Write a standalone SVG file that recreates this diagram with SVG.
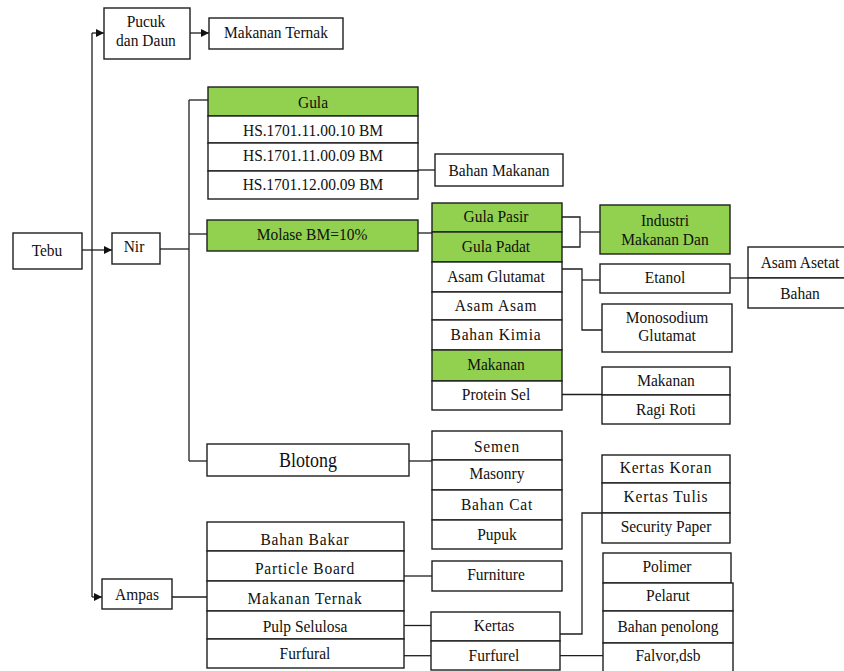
<svg xmlns="http://www.w3.org/2000/svg" width="844" height="671" viewBox="0 0 844 671">
  <style>
    rect { fill: #ffffff; stroke: #1e1e1e; stroke-width: 1.4; }
    rect.g { fill: #92d050; }
    text { font-family: "Liberation Serif", Tinos, "Times New Roman", serif; font-size: 15.5px; fill: #111; text-anchor: middle;
           transform-box: fill-box; transform-origin: center; transform: scaleY(1.12); }
    text.big { font-size: 18px; }
    text.sp { letter-spacing: 0.8px; }
    #links path { fill: none; stroke: #1e1e1e; stroke-width: 1.3; }
  </style>
  <defs>
    <marker id="arr" viewBox="0 0 10 10" refX="10" refY="5" markerWidth="8" markerHeight="8" markerUnits="userSpaceOnUse" orient="auto">
      <path d="M0,0 L10,5 L0,10 z" fill="#111"/>
    </marker>
  </defs>
  <rect x="0" y="0" width="844" height="671" style="fill:#fff;stroke:none"/>

  <!-- connectors -->
  <g id="links">
    <path d="M92,33 V597"/>
    <path d="M92,33 H104" marker-end="url(#arr)"/>
    <path d="M92,597 H102" marker-end="url(#arr)"/>
    <path d="M82,250 H112" marker-end="url(#arr)"/>
    <path d="M190,33 H209" marker-end="url(#arr)"/>
    <path d="M160,249 H189"/>
    <path d="M189,100 V461"/>
    <path d="M189,100 H208"/>
    <path d="M189,234 H207"/>
    <path d="M189,461 H207"/>
    <path d="M418,170 H435"/>
    <path d="M418,233 H432"/>
    <path d="M562,217 H580 V247 H562"/>
    <path d="M580,232 H600"/>
    <path d="M562,269 H582 V330 H602"/>
    <path d="M582,280 H600"/>
    <path d="M730,278 H748"/>
    <path d="M562,394.5 H602"/>
    <path d="M409,461 H432"/>
    <path d="M172,597 H207"/>
    <path d="M404,576 H432"/>
    <path d="M404,625.5 H431"/>
    <path d="M404,655.7 H431"/>
    <path d="M560,634 H582 V513 H602"/>
    <path d="M560,655.7 H603"/>
  </g>

  <!-- root and first level -->
  <g id="tebu"><rect x="13" y="233" width="69" height="36"/><text x="47" y="255">Tebu</text></g>
  <g id="nir"><rect x="112" y="233" width="48" height="31"/><text x="134" y="251.5">Nir</text></g>
  <g id="pucuk-daun"><rect x="104" y="8" width="86" height="51"/><text x="146" y="26">Pucuk</text><text x="146" y="45">dan Daun</text></g>
  <g id="makanan-ternak-daun"><rect x="209" y="18" width="134" height="31"/><text x="276" y="37.5">Makanan Ternak</text></g>
  <g id="ampas"><rect x="102" y="579" width="70" height="30"/><text x="137" y="599">Ampas</text></g>

  <!-- gula -->
  <g id="gula"><rect class="g" x="208" y="87" width="210" height="29"/><text x="313" y="107">Gula</text></g>
  <g id="hs-1"><rect x="208" y="116" width="210" height="27"/><text x="313" y="135">HS.1701.11.00.10 BM</text></g>
  <g id="hs-2"><rect x="208" y="143" width="210" height="28"/><text x="313" y="160.5">HS.1701.11.00.09 BM</text></g>
  <g id="hs-3"><rect x="208" y="171" width="210" height="28"/><text x="313" y="189">HS.1701.12.00.09 BM</text></g>
  <g id="bahan-makanan"><rect x="435" y="154" width="128" height="32"/><text x="499" y="175">Bahan Makanan</text></g>

  <!-- molase -->
  <g id="molase"><rect class="g" x="207" y="220" width="211" height="31"/><text x="312" y="239">Molase BM=10%</text></g>
  <g id="gula-pasir"><rect class="g" x="432" y="203" width="130" height="29"/><text x="496" y="221">Gula Pasir</text></g>
  <g id="gula-padat"><rect class="g" x="432" y="232" width="130" height="30"/><text x="496" y="251.5">Gula Padat</text></g>
  <g id="asam-glutamat"><rect x="432" y="262" width="130" height="30"/><text x="496" y="281.5">Asam Glutamat</text></g>
  <g id="asam-asam"><rect x="432" y="292" width="130" height="28"/><text class="sp" x="496" y="310.5">Asam Asam</text></g>
  <g id="bahan-kimia"><rect x="432" y="320" width="130" height="30"/><text class="sp" x="496" y="339">Bahan Kimia</text></g>
  <g id="makanan-molase"><rect class="g" x="432" y="350" width="130" height="31"/><text x="496" y="369">Makanan</text></g>
  <g id="protein-sel"><rect x="432" y="381" width="130" height="29"/><text x="496" y="399">Protein Sel</text></g>

  <g id="industri"><rect class="g" x="600" y="205" width="130" height="49"/><text x="665" y="225">Industri</text><text x="665" y="244">Makanan Dan</text></g>
  <g id="etanol"><rect x="600" y="264" width="130" height="29"/><text x="665" y="282">Etanol</text></g>
  <g id="monosodium"><rect x="602" y="304" width="130" height="48"/><text x="667" y="322">Monosodium</text><text x="667" y="340.5">Glutamat</text></g>
  <g id="asam-asetat"><rect x="748" y="247" width="102" height="31"/><text x="800" y="267">Asam Asetat</text></g>
  <g id="bahan-etanol"><rect x="748" y="278" width="102" height="30"/><text x="800" y="298">Bahan</text></g>
  <g id="makanan-protein"><rect x="602" y="367" width="128" height="28"/><text x="666" y="385">Makanan</text></g>
  <g id="ragi-roti"><rect x="602" y="395" width="128" height="29"/><text x="666" y="414">Ragi Roti</text></g>

  <!-- blotong -->
  <g id="blotong"><rect x="207" y="444" width="202" height="32"/><text class="big" x="308" y="466">Blotong</text></g>
  <g id="semen"><rect x="432" y="431" width="130" height="29"/><text class="sp" x="497" y="451.5">Semen</text></g>
  <g id="masonry"><rect x="432" y="460" width="130" height="30"/><text x="497" y="478">Masonry</text></g>
  <g id="bahan-cat"><rect x="432" y="490" width="130" height="30"/><text class="sp" x="497" y="509">Bahan Cat</text></g>
  <g id="pupuk"><rect x="432" y="520" width="130" height="29"/><text x="497" y="539">Pupuk</text></g>

  <!-- ampas -->
  <g id="bahan-bakar"><rect x="207" y="522" width="197" height="29"/><text class="sp" x="305" y="544">Bahan Bakar</text></g>
  <g id="particle-board"><rect x="207" y="551" width="197" height="30"/><text class="sp" x="305" y="573">Particle Board</text></g>
  <g id="makanan-ternak-ampas"><rect x="207" y="581" width="197" height="30"/><text class="sp" x="305" y="603">Makanan Ternak</text></g>
  <g id="pulp-selulosa"><rect x="207" y="611" width="197" height="28"/><text x="305" y="631.5">Pulp Selulosa</text></g>
  <g id="furfural"><rect x="207" y="639" width="197" height="29"/><text x="305" y="658">Furfural</text></g>

  <g id="furniture"><rect x="432" y="561" width="130" height="30"/><text x="496" y="579">Furniture</text></g>
  <g id="kertas"><rect x="431" y="612" width="129" height="29"/><text x="494" y="630">Kertas</text></g>
  <g id="furfurel"><rect x="431" y="641" width="129" height="29"/><text x="494" y="660">Furfurel</text></g>

  <g id="kertas-koran"><rect x="602" y="455" width="128" height="28"/><text class="sp" x="666" y="472.5">Kertas Koran</text></g>
  <g id="kertas-tulis"><rect x="602" y="483" width="128" height="30"/><text class="sp" x="666" y="501.5">Kertas Tulis</text></g>
  <g id="security-paper"><rect x="602" y="513" width="128" height="30"/><text x="666" y="531">Security Paper</text></g>

  <g id="polimer"><rect x="603" y="553" width="128" height="30"/><text x="667" y="571">Polimer</text></g>
  <g id="pelarut"><rect x="603" y="583" width="130" height="28"/><text x="668" y="600">Pelarut</text></g>
  <g id="bahan-penolong"><rect x="603" y="611" width="130" height="32"/><text x="668" y="631">Bahan penolong</text></g>
  <g id="falvor"><rect x="603" y="643" width="130" height="32"/><text x="668" y="660">Falvor,dsb</text></g>
</svg>
